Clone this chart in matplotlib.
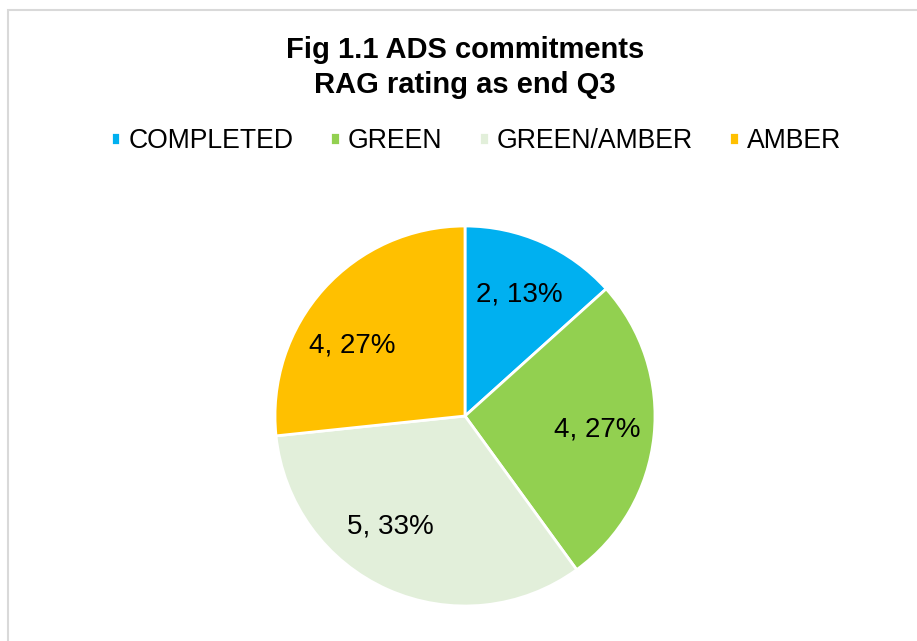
import matplotlib
matplotlib.use("Agg")
import numpy as np
import matplotlib.pyplot as plt
from matplotlib.patches import Rectangle

# RAG data
categories = ["COMPLETED", "GREEN", "GREEN/AMBER", "AMBER"]
counts = [2, 4, 5, 4]
colors = ["#00B0F0", "#92D050", "#E2EFDA", "#FFC000"]
# small angular nudges (deg) so labels sit like Excel's best-fit placement
label_nudge = [0, 0, -10, 10]

plt.rcParams["font.family"] = ["Liberation Sans", "DejaVu Sans"]

W, H = 917, 641
fig = plt.figure(figsize=(W / 100, H / 100), dpi=100)

# chart-area border (light grey, runs off the bottom/right)
fig.patches.append(Rectangle((8 / W, -0.05), 1.0, (H - 10) / H + 0.05,
                             transform=fig.transFigure, fill=False,
                             ec="#D9D9D9", lw=1.5))

cx, cy, r = 465, 416, 190
ax = fig.add_axes([(cx - r) / W, (H - cy - r) / H, 2 * r / W, 2 * r / H])

total = sum(counts)
labels = [f"{c}, {round(100 * c / total)}%" for c in counts]

wedges, texts = ax.pie(counts, colors=colors, startangle=90, counterclock=False,
                       labels=labels, labeldistance=0.7,
                       wedgeprops=dict(edgecolor="white", linewidth=2),
                       textprops=dict(fontsize=20, color="black"))
for w, t, dn in zip(wedges, texts, label_nudge):
    ang = np.deg2rad((w.theta1 + w.theta2) / 2 + dn)
    t.set_position((0.7 * np.cos(ang), 0.7 * np.sin(ang)))
    t.set_ha("center")
    t.set_va("center")
ax.set_xlim(-1, 1)
ax.set_ylim(-1, 1)
ax.set_aspect("equal")

fig.text(cx / W, 1 - 50 / H, "Fig 1.1 ADS commitments", ha="center", va="center",
         fontsize=21, fontweight="bold")
fig.text(cx / W, 1 - 85 / H, "RAG rating as end Q3", ha="center", va="center",
         fontsize=21, fontweight="bold")

fig.legend(wedges, categories, loc="center", bbox_to_anchor=(476 / W, 1 - 141 / H),
           ncol=4, frameon=False, fontsize=19.2, handlelength=0.36, handleheight=0.36,
           handletextpad=0.3, columnspacing=1.38)

fig.savefig("out.png", dpi=100)
